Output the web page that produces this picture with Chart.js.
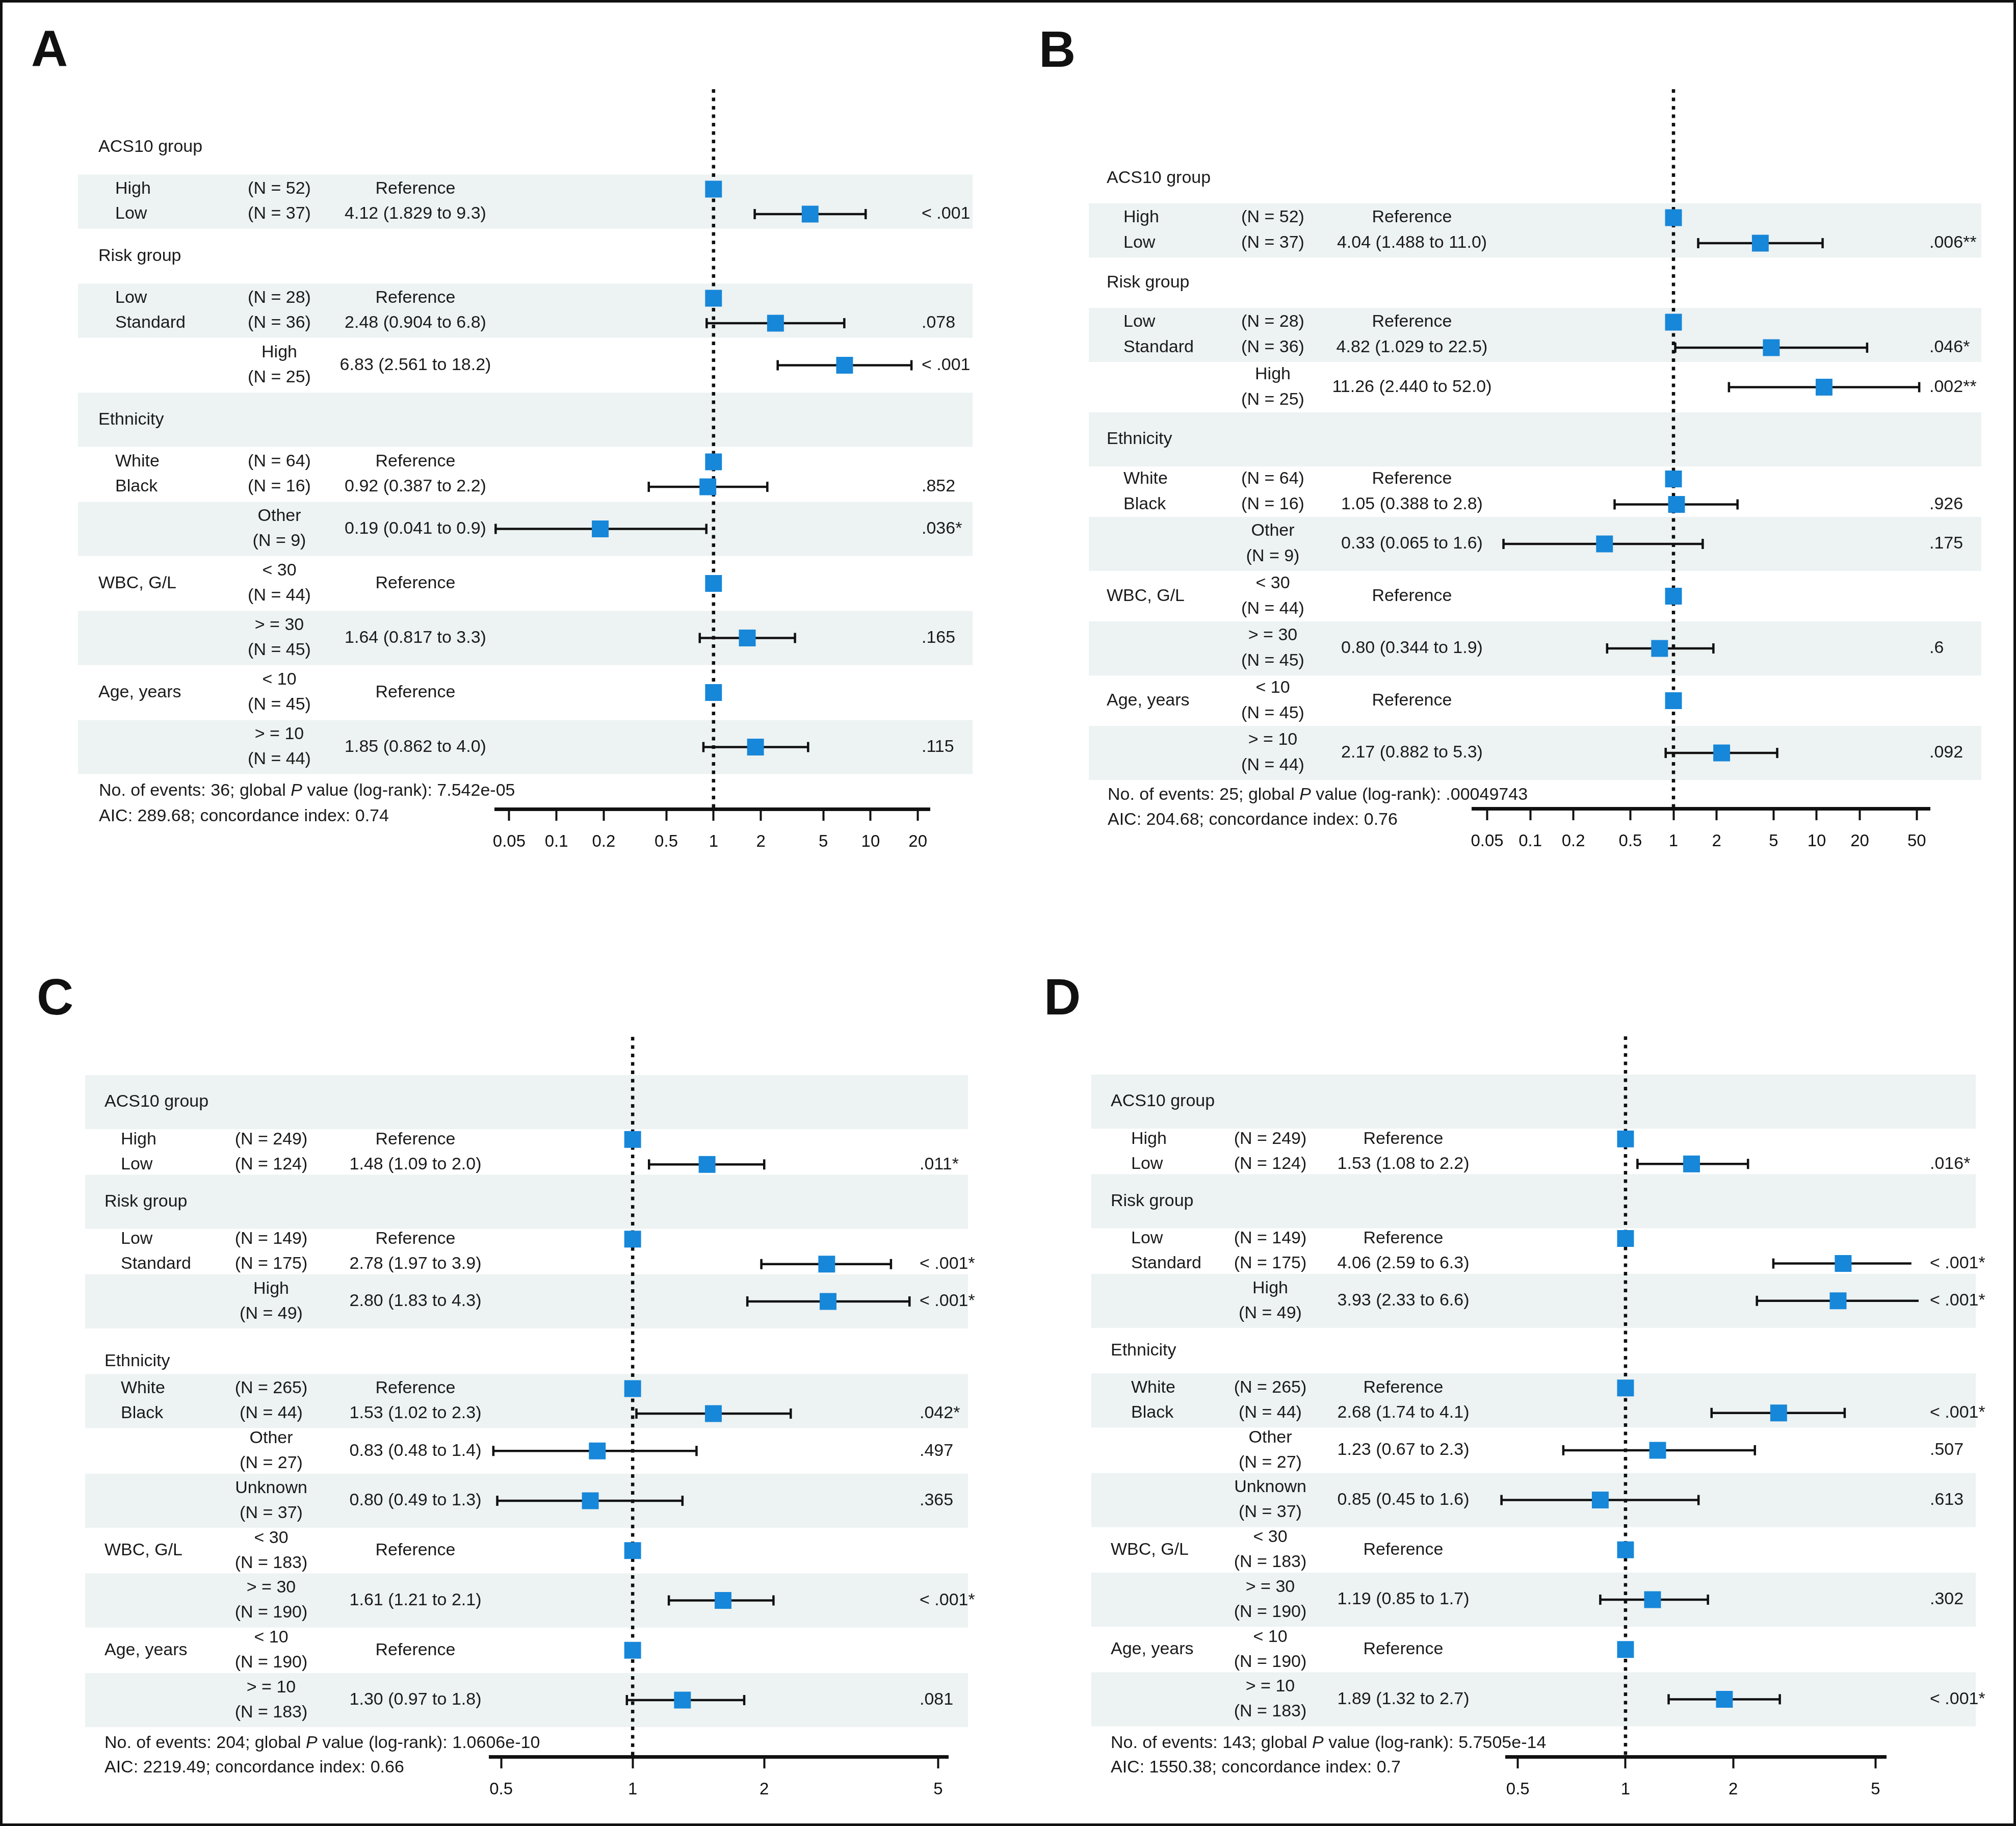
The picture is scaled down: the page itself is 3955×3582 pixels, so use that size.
<!DOCTYPE html>
<html>
<head>
<meta charset="utf-8">
<title>Forest plots A-D</title>
<script src="https://cdn.jsdelivr.net/npm/chart.js@4.4.1/dist/chart.umd.min.js"></script>
<style>
  html, body { margin: 0; padding: 0; background: #fff; }
  #page { position: relative; width: 3955px; height: 3582px; overflow: hidden; background: #fff; }
  #page canvas { position: absolute; }
  #frame { position: absolute; left: 0; top: 0; width: 3955px; height: 3582px;
           box-sizing: border-box; border: 5px solid #111; pointer-events: none; }
</style>
</head>
<body>
<div id="page">
  <canvas id="panelA" width="1977" height="1791" style="left:0px;top:0px"></canvas>
  <canvas id="panelB" width="1978" height="1791" style="left:1977px;top:0px"></canvas>
  <canvas id="panelC" width="1977" height="1791" style="left:0px;top:1791px"></canvas>
  <canvas id="panelD" width="1978" height="1791" style="left:1977px;top:1791px"></canvas>
  <div id="frame"></div>
</div>
<script>
// variables shown in every panel
const groupNames = ['ACS10 group', 'Risk group', 'Ethnicity', 'WBC, G/L', 'Age, years'];
const inlineHeader = [false, false, false, true, true]; // header shares the first level's row

// panels A and B
const levelsAB = ['High', 'Low', 'Low', 'Standard', 'High', 'White', 'Black', 'Other', '< 30', '> = 30', '< 10', '> = 10'];
const groupAB  = [0, 0, 1, 1, 1, 2, 2, 2, 3, 3, 4, 4];
const countAB  = [52, 37, 28, 36, 25, 64, 16, 9, 44, 45, 45, 44];

const hrA = [1, 4.12, 1, 2.48, 6.83, 1, 0.92, 0.19, 1, 1.64, 1, 1.85];
const loA = [null, 1.829, null, 0.904, 2.561, null, 0.387, 0.041, null, 0.817, null, 0.862];
const hiA = [null, 9.3, null, 6.8, 18.2, null, 2.2, 0.9, null, 3.3, null, 4.0];
const pA  = ['', '< .001', '', '.078', '< .001', '', '.852', '.036*', '', '.165', '', '.115'];

const hrB = [1, 4.04, 1, 4.82, 11.26, 1, 1.05, 0.33, 1, 0.80, 1, 2.17];
const loB = [null, 1.488, null, 1.029, 2.440, null, 0.388, 0.065, null, 0.344, null, 0.882];
const hiB = [null, 11.0, null, 22.5, 52.0, null, 2.8, 1.6, null, 1.9, null, 5.3];
const pB  = ['', '.006**', '', '.046*', '.002**', '', '.926', '.175', '', '.6', '', '.092'];

// panels C and D
const levelsCD = ['High', 'Low', 'Low', 'Standard', 'High', 'White', 'Black', 'Other', 'Unknown', '< 30', '> = 30', '< 10', '> = 10'];
const groupCD  = [0, 0, 1, 1, 1, 2, 2, 2, 2, 3, 3, 4, 4];
const countCD  = [249, 124, 149, 175, 49, 265, 44, 27, 37, 183, 190, 190, 183];

const hrC = [1, 1.48, 1, 2.78, 2.80, 1, 1.53, 0.83, 0.80, 1, 1.61, 1, 1.30];
const loC = [null, 1.09, null, 1.97, 1.83, null, 1.02, 0.48, 0.49, null, 1.21, null, 0.97];
const hiC = [null, 2.0, null, 3.9, 4.3, null, 2.3, 1.4, 1.3, null, 2.1, null, 1.8];
const pC  = ['', '.011*', '', '< .001*', '< .001*', '', '.042*', '.497', '.365', '', '< .001*', '', '.081'];

const hrD = [1, 1.53, 1, 4.06, 3.93, 1, 2.68, 1.23, 0.85, 1, 1.19, 1, 1.89];
const loD = [null, 1.08, null, 2.59, 2.33, null, 1.74, 0.67, 0.45, null, 0.85, null, 1.32];
const hiD = [null, 2.2, null, 6.3, 6.6, null, 4.1, 2.3, 1.6, null, 1.7, null, 2.7];
const pD  = ['', '.016*', '', '< .001*', '< .001*', '', '< .001*', '.507', '.613', '', '.302', '', '< .001*'];

// x axis ticks
const ticksA  = [0.05, 0.1, 0.2, 0.5, 1, 2, 5, 10, 20];
const ticksB  = [0.05, 0.1, 0.2, 0.5, 1, 2, 5, 10, 20, 50];
const ticksCD = [0.5, 1, 2, 5];
const tickLabelsA  = ['0.05', '0.1', '0.2', '0.5', '1', '2', '5', '10', '20'];
const tickLabelsB  = ['0.05', '0.1', '0.2', '0.5', '1', '2', '5', '10', '20', '50'];
const tickLabelsCD = ['0.5', '1', '2', '5'];

// model summaries
const eventsAll  = [36, 25, 204, 143];
const globalPAll = ['7.542e-05', '.00049743', '1.0606e-10', '5.7505e-14'];
const aicAll     = ['289.68', '204.68', '2219.49', '1550.38'];
const cindexAll  = ['0.74', '0.76', '0.66', '0.7'];

const FONT = "'Liberation Sans', Arial, sans-serif";
const INK = '#111';
const TEXT = '#1a1a1a';
const BAND = '#edf2f2';
const BLUE = '#1787d9';

const panels = [
  { id: 'panelA', letter: 'A', levels: levelsAB, groups: groupAB, counts: countAB,
    hr: hrA, lo: loA, hi: hiA, p: pA, loDigits: 3, ticks: ticksA, tickLabels: tickLabelsA, k: 0,
    box: { letterX: 61, letterY: 130, slot0: 288.5, step: 107, pair: 24.5, bandHalf: 53, shade: 1,
           bandL: 153, bandR: 1908, headX: 193, levelX: 226, nX: 548, estX: 815, pX: 1808,
           headShift: [0, 0, 0, 0, 0],
           footX: 194, footY: [1552, 1602], top: 175, axisY: 1587, axisL: 973, axisR: 1824,
           xMin: 0.0412, xMax: 23.8 } },
  { id: 'panelB', letter: 'B', levels: levelsAB, groups: groupAB, counts: countAB,
    hr: hrB, lo: loB, hi: hiB, p: pB, loDigits: 3, ticks: ticksB, tickLabels: tickLabelsB, k: 1,
    box: { letterX: 61, letterY: 131, slot0: 349.5, step: 102.5, pair: 25, bandHalf: 53, shade: 1,
           bandL: 159, bandR: 1910, headX: 194, levelX: 227, nX: 520, estX: 793, pX: 1808,
           headShift: [0, 0, 0, 0, 0],
           footX: 196, footY: [1560, 1609], top: 175, axisY: 1586, axisL: 913, axisR: 1809,
           xMin: 0.0399, xMax: 61.7 } },
  { id: 'panelC', letter: 'C', levels: levelsCD, groups: groupCD, counts: countCD,
    hr: hrC, lo: loC, hi: hiC, p: pC, loDigits: 2, ticks: ticksCD, tickLabels: tickLabelsCD, k: 2,
    box: { letterX: 72, letterY: 199, slot0: 371, step: 97.75, pair: 24.5, bandHalf: 53, shade: 0,
           bandL: 167, bandR: 1899, headX: 205, levelX: 237, nX: 532, estX: 815, pX: 1804,
           headShift: [0, 0, 20, 0, 0],
           footX: 205, footY: [1629, 1677], top: 243, axisY: 1655, axisL: 962, axisR: 1860,
           xMin: 0.4725, xMax: 5.27 } },
  { id: 'panelD', letter: 'D', levels: levelsCD, groups: groupCD, counts: countCD,
    hr: hrD, lo: loD, hi: hiD, p: pD, loDigits: 2, ticks: ticksCD, tickLabels: tickLabelsCD, k: 3,
    box: { letterX: 71, letterY: 199, slot0: 370, step: 97.7, pair: 24.5, bandHalf: 53, shade: 0,
           bandL: 164, bandR: 1899, headX: 202, levelX: 242, nX: 515, estX: 776, pX: 1809,
           headShift: [0, 0, 0, 0, 0],
           footX: 202, footY: [1629, 1677], top: 242, axisY: 1655, axisL: 979, axisR: 1723,
           xMin: 0.4656, xMax: 5.35 } }
];

// work out which row slot every level and header goes into
function layoutRows(groups) {
  const rows = [], heads = [];
  let slot = 0, cur = -1, k = 0;
  groups.forEach(g => {
    if (g !== cur) {
      cur = g; k = 0;
      heads.push({ name: groupNames[g], group: g, slot: slot });
      if (!inlineHeader[g]) slot++;
    }
    if (!inlineHeader[g] && k < 2) {
      rows.push({ slot: slot, kind: k === 0 ? 'top' : 'bottom' });
      if (k === 1) slot++;
    } else {
      rows.push({ slot: slot, kind: 'stack' });
      slot++;
    }
    k++;
  });
  return { rows, heads, count: slot };
}

function decorPlugin(p, lay) {
  const b = p.box;
  const off = b.pair / b.step;
  return {
    id: 'forestDecor',
    beforeDraw(chart) {
      const { ctx, scales: { y } } = chart;
      ctx.save();
      ctx.fillStyle = BAND;
      for (let s = 0; s < lay.count; s++) {
        if (s % 2 !== b.shade) continue;
        const yc = y.getPixelForValue(s);
        ctx.fillRect(b.bandL, yc - b.bandHalf, b.bandR - b.bandL, 2 * b.bandHalf);
      }
      ctx.restore();
    },
    beforeDatasetsDraw(chart) {
      const { ctx, chartArea, scales: { x, y } } = chart;
      ctx.save();
      // dotted line at HR = 1
      const x1 = x.getPixelForValue(1);
      ctx.strokeStyle = INK;
      ctx.lineWidth = 6.5;
      ctx.setLineDash([7, 9.5]);
      ctx.beginPath();
      ctx.moveTo(x1, chartArea.top);
      ctx.lineTo(x1, chartArea.bottom);
      ctx.stroke();
      ctx.setLineDash([]);

      ctx.fillStyle = TEXT;
      ctx.textBaseline = 'middle';
      ctx.font = `34px ${FONT}`;
      const put = (t, px, py, align) => { ctx.textAlign = align; ctx.fillText(t, px, py); };

      lay.heads.forEach(h => put(h.name, b.headX, y.getPixelForValue(h.slot) + b.headShift[h.group], 'left'));
      lay.rows.forEach((r, i) => {
        const nTxt = `(N = ${p.counts[i]})`;
        const est = p.lo[i] == null ? 'Reference'
          : `${p.hr[i].toFixed(2)} (${p.lo[i].toFixed(p.loDigits)} to ${p.hi[i].toFixed(1)})`;
        let yc;
        if (r.kind === 'stack') {
          yc = y.getPixelForValue(r.slot);
          put(p.levels[i], b.nX, y.getPixelForValue(r.slot - off), 'center');
          put(nTxt, b.nX, y.getPixelForValue(r.slot + off), 'center');
        } else {
          yc = y.getPixelForValue(r.slot + (r.kind === 'top' ? -off : off));
          put(p.levels[i], b.levelX, yc, 'left');
          put(nTxt, b.nX, yc, 'center');
        }
        put(est, b.estX, yc, 'center');
        if (p.p[i]) put(p.p[i], b.pX, yc, 'left');
      });

      // model summary under the table
      let fx = b.footX;
      ctx.textAlign = 'left';
      const segs = [[`No. of events: ${eventsAll[p.k]}; global `, ''], ['P', 'italic '],
                    [` value (log-rank): ${globalPAll[p.k]}`, '']];
      segs.forEach(([t, style]) => {
        ctx.font = `${style}34px ${FONT}`;
        ctx.fillText(t, fx, b.footY[0]);
        fx += ctx.measureText(t).width;
      });
      ctx.font = `34px ${FONT}`;
      ctx.fillText(`AIC: ${aicAll[p.k]}; concordance index: ${cindexAll[p.k]}`, b.footX, b.footY[1]);

      // panel letter
      ctx.font = `bold 100px ${FONT}`;
      ctx.fillStyle = INK;
      ctx.textBaseline = 'alphabetic';
      put(p.letter, b.letterX, b.letterY, 'left');
      ctx.restore();
    }
  };
}

function buildPanel(p) {
  const b = p.box;
  const lay = layoutRows(p.groups);
  const off = b.pair / b.step;
  const rowY = r => r.slot + (r.kind === 'top' ? -off : r.kind === 'bottom' ? off : 0);
  const canvas = document.getElementById(p.id);
  const W = canvas.width, H = canvas.height;

  const datasets = [{
    type: 'scatter',
    data: p.hr.map((v, i) => ({ x: v, y: rowY(lay.rows[i]) })),
    pointStyle: 'rect',
    pointRadius: 23.3,
    pointHoverRadius: 23.3,
    pointBackgroundColor: BLUE,
    backgroundColor: BLUE,
    pointBorderWidth: 0,
    borderWidth: 0,
    order: 0,
    clip: false
  }];
  p.hr.forEach((v, i) => {
    if (p.lo[i] == null) return;
    const yv = rowY(lay.rows[i]);
    datasets.push({
      type: 'line',
      data: [{ x: p.lo[i], y: yv }, { x: p.hi[i], y: yv }],
      borderColor: INK,
      borderWidth: 4.5,
      pointStyle: 'line',
      pointRadius: 10,
      pointHoverRadius: 10,
      pointRotation: 90,
      pointBorderWidth: 4.5,
      pointBorderColor: INK,
      order: 1,
      clip: false
    });
  });

  const pad = { left: b.axisL, right: W - b.axisR, top: b.top, bottom: H - b.axisY - 88 };
  const chart = new Chart(canvas, {
    type: 'scatter',
    data: { datasets },
    options: {
      responsive: false,
      animation: false,
      devicePixelRatio: 1,
      events: [],
      layout: { padding: pad },
      plugins: { legend: { display: false }, tooltip: { enabled: false } },
      scales: {
        x: {
          type: 'logarithmic',
          min: b.xMin,
          max: b.xMax,
          bounds: 'data',
          afterBuildTicks: s => { s.ticks = p.ticks.map(v => ({ value: v })); },
          ticks: {
            autoSkip: false,
            maxRotation: 0,
            padding: 22,
            color: INK,
            font: { family: FONT, size: 33 },
            callback: (v, i) => p.tickLabels[i]
          },
          grid: { display: true, drawOnChartArea: false, drawTicks: true,
                  tickLength: 23, tickWidth: 4, tickColor: INK },
          border: { display: true, color: INK, width: 7 }
        },
        y: {
          type: 'linear',
          reverse: true,
          display: false,
          bounds: 'data',
          min: (b.top - b.slot0) / b.step,
          max: (b.axisY - b.slot0) / b.step
        }
      }
    },
    plugins: [decorPlugin(p, lay)]
  });

  // nudge padding so the plot area sits exactly on the measured axis
  const a = chart.chartArea;
  chart.options.layout.padding = {
    left: pad.left + (b.axisL - a.left),
    right: pad.right + (a.right - b.axisR),
    top: pad.top + (b.top - a.top),
    bottom: pad.bottom + (a.bottom - b.axisY)
  };
  chart.update('none');
}

panels.forEach(buildPanel);
</script>
</body>
</html>
